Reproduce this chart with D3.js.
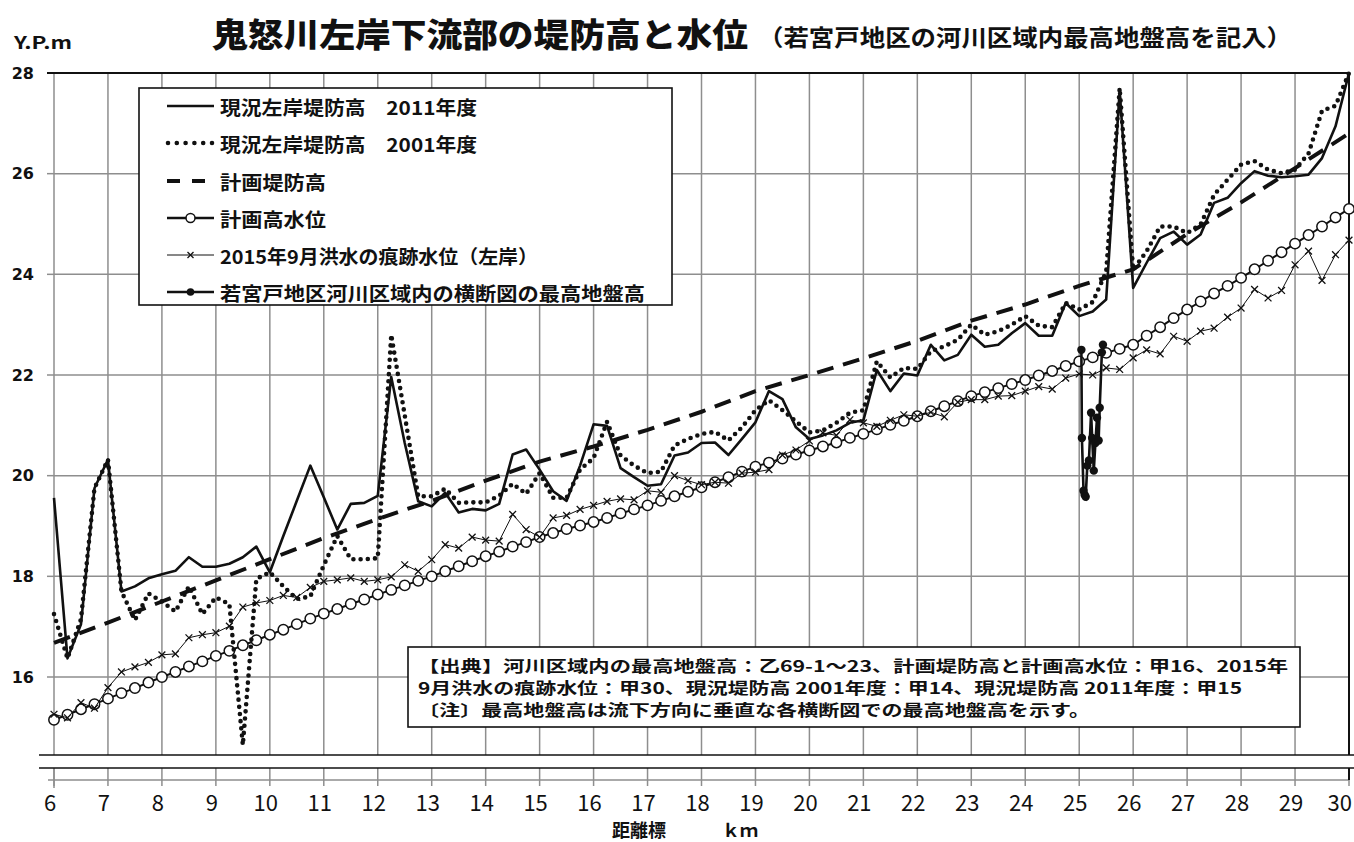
<!DOCTYPE html>
<html><head><meta charset="utf-8">
<script src="https://cdn.jsdelivr.net/npm/d3@7"></script>
<style>body{margin:0;background:#fff}svg{display:block}</style>
</head><body>
<svg id="chart" width="1354" height="842"></svg>
<script>
// 距離標 (km) – survey stations every 0.25 km
const stations = [
  6,6.25,6.5,6.75,7,7.25,7.5,7.75,8,8.25,8.5,8.75,9,9.25,9.5,9.75,
  10,10.25,10.5,10.75,11,11.25,11.5,11.75,12,12.25,12.5,12.75,13,13.25,13.5,13.75,
  14,14.25,14.5,14.75,15,15.25,15.5,15.75,16,16.25,16.5,16.75,17,17.25,17.5,17.75,
  18,18.25,18.5,18.75,19,19.25,19.5,19.75,20,20.25,20.5,20.75,21,21.25,21.5,21.75,
  22,22.25,22.5,22.75,23,23.25,23.5,23.75,24,24.25,24.5,24.75,25,25.25,25.5,25.75,
  26,26.25,26.5,26.75,27,27.25,27.5,27.75,28,28.25,28.5,28.75,29,29.25,29.5,29.75,30
];

// 現況左岸堤防高 2011年度 (Y.P.m)
const levee2011 = [
  19.56,16.37,17.05,19.75,20.32,17.70,17.80,17.96,18.04,18.11,18.38,18.19,18.19,18.25,18.38,18.59,
  18.08,18.80,19.50,20.20,19.57,18.93,19.44,19.46,19.60,21.96,20.65,19.49,19.39,19.66,19.27,19.34,
  19.31,19.44,20.42,20.52,20.12,19.69,19.50,20.20,21.02,20.99,20.15,19.97,19.80,19.83,20.40,20.46,
  20.65,20.66,20.41,20.73,21.06,21.68,21.52,20.96,20.73,20.80,20.90,21.05,21.10,22.10,21.68,22.03,
  21.99,22.60,22.29,22.40,22.80,22.56,22.60,22.83,23.03,22.78,22.78,23.43,23.17,23.26,23.50,27.65,
  23.73,24.23,24.72,24.85,24.59,24.79,25.42,25.52,25.81,26.05,25.96,25.93,25.95,25.98,26.31,26.94,28.00
];

// 現況左岸堤防高 2001年度 (Y.P.m)
const levee2001 = [
  17.25,16.37,17.15,19.75,20.32,17.70,17.13,17.66,17.50,17.30,17.80,17.25,17.58,17.45,14.65,17.95,
  18.08,17.80,17.55,17.60,18.22,18.80,18.34,18.34,18.36,22.80,21.20,19.59,19.59,19.74,19.46,19.47,
  19.47,19.60,19.84,19.64,20.05,19.56,19.56,20.12,20.35,21.07,20.40,20.20,20.05,20.08,20.60,20.73,
  20.83,20.87,20.70,20.96,21.30,21.50,21.30,21.08,20.86,20.90,21.05,21.25,21.30,22.27,21.95,22.14,
  22.12,22.47,22.57,22.70,23.00,22.80,22.87,23.00,23.17,22.98,22.95,23.43,23.30,23.45,24.05,27.70,
  24.09,24.46,24.95,24.95,24.82,24.99,25.58,25.88,26.18,26.25,26.08,26.01,26.08,26.40,27.25,27.35,28.00
];

// 2015年9月洪水の痕跡水位（左岸） (Y.P.m)
const flood2015 = [
  15.26,15.19,15.49,15.38,15.79,16.10,16.20,16.29,16.44,16.46,16.78,16.84,16.88,17.01,17.39,17.47,
  17.52,17.62,17.58,17.78,17.90,17.93,17.97,17.90,17.93,17.99,18.23,18.10,18.33,18.63,18.56,18.78,
  18.72,18.70,19.23,18.93,18.78,19.16,19.21,19.33,19.41,19.49,19.54,19.52,19.70,19.67,20.00,19.90,
  19.82,19.87,19.85,20.05,20.07,20.12,20.41,20.51,20.69,20.85,20.80,21.11,21.05,20.98,21.10,21.21,
  21.18,21.26,21.17,21.46,21.51,21.51,21.58,21.59,21.68,21.77,21.72,21.94,22.02,22.00,22.14,22.11,
  22.34,22.50,22.42,22.77,22.67,22.87,22.93,23.15,23.33,23.70,23.53,23.68,24.19,24.46,23.88,24.39,24.68
];

// 計画高水位 (Y.P.m)
const planHWL = [
  15.15,15.25,15.36,15.46,15.57,15.68,15.78,15.89,16.00,16.10,16.21,16.31,16.42,16.52,16.63,16.73,
  16.84,16.94,17.05,17.16,17.26,17.35,17.45,17.54,17.64,17.73,17.82,17.91,18.00,18.10,18.20,18.30,
  18.40,18.49,18.59,18.68,18.78,18.86,18.94,19.01,19.08,19.16,19.25,19.33,19.41,19.50,19.59,19.68,
  19.77,19.87,19.97,20.08,20.18,20.26,20.34,20.42,20.50,20.58,20.66,20.75,20.83,20.92,21.01,21.09,
  21.18,21.28,21.38,21.48,21.58,21.66,21.74,21.82,21.90,21.99,22.08,22.18,22.27,22.35,22.44,22.52,
  22.60,22.78,22.95,23.13,23.30,23.46,23.62,23.77,23.93,24.10,24.27,24.44,24.61,24.78,24.95,25.13,25.30
];

// 計画堤防高 (Y.P.m), given at each km
const planLeveeKm = [6,7,8,9,10,11,12,13,14,15,16,17,18,19,20,21,22,23,24,25,26,27,28,29,30];
const planLevee   = [16.68,17.08,17.50,17.92,18.34,18.76,19.14,19.50,19.90,20.28,20.58,20.91,21.27,
                     21.68,22.00,22.33,22.68,23.08,23.40,23.77,24.10,24.80,25.43,26.11,26.80];

// 若宮戸地区河川区域内の横断図の最高地盤高
const wakaKm     = [25.04,25.05,25.08,25.10,25.12,25.15,25.18,25.22,25.24,25.27,25.30,25.33,25.36,25.38,25.42,25.44];
const wakaGround = [22.50,20.75,19.70,19.62,19.58,20.20,20.30,21.25,20.75,20.10,20.65,21.15,20.70,21.35,22.45,22.60];

const xTicks = [6,7,8,9,10,11,12,13,14,15,16,17,18,19,20,21,22,23,24,25,26,27,28,29,30];
const yTicks = [16,18,20,22,24,26,28];

const legendLabels = [
  "現況左岸堤防高　2011年度",
  "現況左岸堤防高　2001年度",
  "計画堤防高",
  "計画高水位",
  "2015年9月洪水の痕跡水位（左岸）",
  "若宮戸地区河川区域内の横断図の最高地盤高"
];
const sourceLines = [
  "【出典】河川区域内の最高地盤高：乙69-1～23、計画堤防高と計画高水位：甲16、2015年",
  "9月洪水の痕跡水位：甲30、現況堤防高 2001年度：甲14、現況堤防高 2011年度：甲15",
  "〔注〕最高地盤高は流下方向に垂直な各横断図での最高地盤高を示す。"
];

const svg = d3.select("#chart");
const JP = "'Noto Sans CJK JP','Noto Sans',sans-serif";

const x = d3.scaleLinear().domain([6, 30]).range([54, 1349]);
const y = d3.scaleLinear().domain([16, 28]).range([677, 73]);
const plotBottom = 755, breakBottom = 768, axisY = 780;
const gridColor = "#8e8e8e";

// grid
const grid = svg.append("g");
grid.selectAll("line.v").data(xTicks.slice(1, -1)).join("line")
  .attr("x1", d => x(d)).attr("x2", d => x(d)).attr("y1", y(28)).attr("y2", plotBottom)
  .attr("stroke", gridColor).attr("stroke-width", 1.5);
grid.selectAll("line.h").data(yTicks.slice(0, -1)).join("line")
  .attr("x1", x(6)).attr("x2", x(30)).attr("y1", d => y(d)).attr("y2", d => y(d))
  .attr("stroke", gridColor).attr("stroke-width", 1.5);

// lower stub of the broken axis
grid.selectAll("line.vb").data(xTicks).join("line")
  .attr("x1", d => x(d)).attr("x2", d => x(d)).attr("y1", breakBottom).attr("y2", axisY + 6)
  .attr("stroke", gridColor).attr("stroke-width", 1.5);
grid.append("line").attr("x1", x(6) - 6).attr("x2", x(30)).attr("y1", axisY).attr("y2", axisY)
  .attr("stroke", gridColor).attr("stroke-width", 1.5);

// y axis
grid.append("line").attr("x1", x(6)).attr("x2", x(6)).attr("y1", y(28)).attr("y2", axisY + 8)
  .attr("stroke", gridColor).attr("stroke-width", 1.5);
grid.selectAll("line.yt").data(yTicks).join("line")
  .attr("x1", x(6) - 7).attr("x2", x(6)).attr("y1", d => y(d)).attr("y2", d => y(d))
  .attr("stroke", gridColor).attr("stroke-width", 1.5);

// frame top & right
svg.append("line").attr("x1", x(6) - 7).attr("x2", x(30) + 1).attr("y1", y(28)).attr("y2", y(28))
  .attr("stroke", "#111").attr("stroke-width", 2.2);
svg.append("line").attr("x1", x(30)).attr("x2", x(30)).attr("y1", y(28)).attr("y2", axisY)
  .attr("stroke", "#111").attr("stroke-width", 2);

// clip for data
svg.append("clipPath").attr("id", "plotClip").append("rect")
  .attr("x", x(6) - 8).attr("y", y(28) - 8).attr("width", x(30) - x(6) + 16).attr("height", plotBottom - y(28) + 6);
const data = svg.append("g").attr("clip-path", "url(#plotClip)");

const line = d3.line().x(d => x(d[0])).y(d => y(d[1]));
const zipSeries = vals => stations.map((k, i) => [k, vals[i]]);

// 計画堤防高 (dashed)
data.append("path").datum(planLeveeKm.map((k, i) => [k, planLevee[i]]))
  .attr("d", line).attr("fill", "none").attr("stroke", "#111")
  .attr("stroke-width", 4).attr("stroke-dasharray", "17,10");

// 計画高水位 (line + open circles)
const hwl = zipSeries(planHWL);
data.append("path").datum(hwl).attr("d", line).attr("fill", "none")
  .attr("stroke", "#111").attr("stroke-width", 2);
data.selectAll("circle.hwl").data(hwl).join("circle")
  .attr("cx", d => x(d[0])).attr("cy", d => y(d[1])).attr("r", 5.2)
  .attr("fill", "#fff").attr("stroke", "#111").attr("stroke-width", 1.5);

// 2015 flood trace (thin line + x marks)
const fl = zipSeries(flood2015);
data.append("path").datum(fl).attr("d", line).attr("fill", "none")
  .attr("stroke", "#111").attr("stroke-width", 1);
const xm = 3.4;
data.selectAll("path.xm").data(fl).join("path")
  .attr("d", d => {
    const cx = x(d[0]), cy = y(d[1]);
    return `M${cx - xm},${cy - xm}L${cx + xm},${cy + xm}M${cx - xm},${cy + xm}L${cx + xm},${cy - xm}`;
  })
  .attr("stroke", "#111").attr("stroke-width", 1.3).attr("fill", "none");

// 2001 levee (dotted)
data.append("path").datum(zipSeries(levee2001)).attr("d", line).attr("fill", "none")
  .attr("stroke", "#111").attr("stroke-width", 4.6).attr("stroke-linecap", "round")
  .attr("stroke-dasharray", "0,7.2");

// 2011 levee (solid)
data.append("path").datum(zipSeries(levee2011)).attr("d", line).attr("fill", "none")
  .attr("stroke", "#111").attr("stroke-width", 2.6).attr("stroke-linejoin", "round");

// 若宮戸 highest ground (line + filled dots)
const wk = wakaKm.map((k, i) => [k, wakaGround[i]]);
data.append("path").datum(wk).attr("d", line).attr("fill", "none")
  .attr("stroke", "#111").attr("stroke-width", 2.6);
data.selectAll("circle.wk").data(wk).join("circle")
  .attr("cx", d => x(d[0])).attr("cy", d => y(d[1])).attr("r", 4.2).attr("fill", "#111");

// axis break band
svg.append("rect").attr("x", 39).attr("y", plotBottom).attr("width", 1354 - 39).attr("height", breakBottom - plotBottom)
  .attr("fill", "#fff");
[plotBottom, breakBottom].forEach(yy => {
  svg.append("line").attr("x1", 39).attr("x2", 1354).attr("y1", yy).attr("y2", yy)
    .attr("stroke", "#111").attr("stroke-width", 1.6);
});

// tick labels
svg.selectAll("text.yl").data(yTicks).join("text")
  .attr("x", 34).attr("y", d => y(d)).attr("text-anchor", "end").attr("dominant-baseline", "central")
  .attr("font-family", "'DejaVu Sans',sans-serif").attr("font-weight", "bold").attr("font-size", 16)
  .attr("fill", "#111").text(d => d);
svg.selectAll("text.xl").data(xTicks).join("text")
  .attr("x", d => d === 30 ? 1352 : x(d) - 4).attr("y", 811)
  .attr("text-anchor", d => d === 30 ? "end" : "middle")
  .attr("font-family", "'Liberation Sans Narrow','Noto Sans CJK JP',sans-serif").attr("font-size", 22)
  .attr("fill", "#111").text(d => d);

// titles
svg.append("text").attr("x", 212).attr("y", 47).attr("textLength", 536).attr("lengthAdjust", "spacingAndGlyphs")
  .attr("font-family", JP).attr("font-weight", 900).attr("font-size", 33).attr("fill", "#111")
  .text("鬼怒川左岸下流部の堤防高と水位");
svg.append("text").attr("x", 758).attr("y", 46).attr("textLength", 534).attr("lengthAdjust", "spacingAndGlyphs")
  .attr("font-family", JP).attr("font-weight", 700).attr("font-size", 23).attr("fill", "#111")
  .text("（若宮戸地区の河川区域内最高地盤高を記入）");
svg.append("text").attr("x", 14).attr("y", 49).attr("textLength", 58).attr("lengthAdjust", "spacingAndGlyphs")
  .attr("font-family", JP).attr("font-weight", 700).attr("font-size", 17).attr("fill", "#111")
  .text("Y.P.m");
// x axis title: 距離標 … km
const xTitle = svg.append("text").attr("x", 612).attr("y", 829).attr("dominant-baseline", "central")
  .attr("font-family", JP).attr("font-weight", 700).attr("font-size", 18).attr("fill", "#111");
xTitle.append("tspan").text("距離標");
xTitle.append("tspan").attr("x", 722).text("ｋｍ");

// legend
const lg = svg.append("g");
lg.append("rect").attr("x", 139).attr("y", 88).attr("width", 533).attr("height", 217)
  .attr("fill", "#fff").attr("stroke", "#111").attr("stroke-width", 1.6);
const rowY = [106, 143, 181, 218, 255, 292];
const labelW = [257, 257, 106, 106, 318, 425];
const sx0 = 167, sx1 = 214, smid = 190.5;
lg.selectAll("text").data(legendLabels).join("text")
  .attr("x", 220).attr("y", (d, i) => rowY[i]).attr("dominant-baseline", "central")
  .attr("textLength", (d, i) => labelW[i]).attr("lengthAdjust", "spacingAndGlyphs")
  .attr("font-family", JP).attr("font-weight", 700).attr("font-size", 19).attr("fill", "#111")
  .text(d => d);
// samples
lg.append("line").attr("x1", sx0).attr("x2", sx1).attr("y1", rowY[0]).attr("y2", rowY[0])
  .attr("stroke", "#111").attr("stroke-width", 2.6);
lg.append("line").attr("x1", sx0 + 1).attr("x2", sx1).attr("y1", rowY[1]).attr("y2", rowY[1])
  .attr("stroke", "#111").attr("stroke-width", 4.6).attr("stroke-linecap", "round").attr("stroke-dasharray", "0,8.8");
lg.append("line").attr("x1", sx0).attr("x2", sx1 - 8).attr("y1", rowY[2]).attr("y2", rowY[2])
  .attr("stroke", "#111").attr("stroke-width", 4).attr("stroke-dasharray", "13,12");
lg.append("line").attr("x1", sx0).attr("x2", sx1).attr("y1", rowY[3]).attr("y2", rowY[3])
  .attr("stroke", "#111").attr("stroke-width", 2.6);
lg.append("circle").attr("cx", smid).attr("cy", rowY[3]).attr("r", 4.5)
  .attr("fill", "#fff").attr("stroke", "#111").attr("stroke-width", 1.5);
lg.append("line").attr("x1", sx0).attr("x2", sx1).attr("y1", rowY[4]).attr("y2", rowY[4])
  .attr("stroke", "#111").attr("stroke-width", 1);
lg.append("path").attr("d", `M${smid-3},${rowY[4]-3}L${smid+3},${rowY[4]+3}M${smid-3},${rowY[4]+3}L${smid+3},${rowY[4]-3}`)
  .attr("stroke", "#111").attr("stroke-width", 1.3);
lg.append("line").attr("x1", sx0).attr("x2", sx1).attr("y1", rowY[5]).attr("y2", rowY[5])
  .attr("stroke", "#111").attr("stroke-width", 2.6);
lg.append("circle").attr("cx", smid).attr("cy", rowY[5]).attr("r", 3.8).attr("fill", "#111");

// source note
const sg = svg.append("g");
sg.append("rect").attr("x", 408).attr("y", 647).attr("width", 892).attr("height", 80)
  .attr("fill", "#fff").attr("stroke", "#111").attr("stroke-width", 1.6);
const srcY = [665, 687, 709];
const srcW = [870, 824, 672];
sg.selectAll("text").data(sourceLines).join("text")
  .attr("x", 418).attr("y", (d, i) => srcY[i]).attr("dominant-baseline", "central")
  .attr("textLength", (d, i) => srcW[i]).attr("lengthAdjust", "spacingAndGlyphs")
  .attr("font-family", JP).attr("font-weight", 700).attr("font-size", 15.5).attr("fill", "#111")
  .text(d => d);
</script>
</body></html>
